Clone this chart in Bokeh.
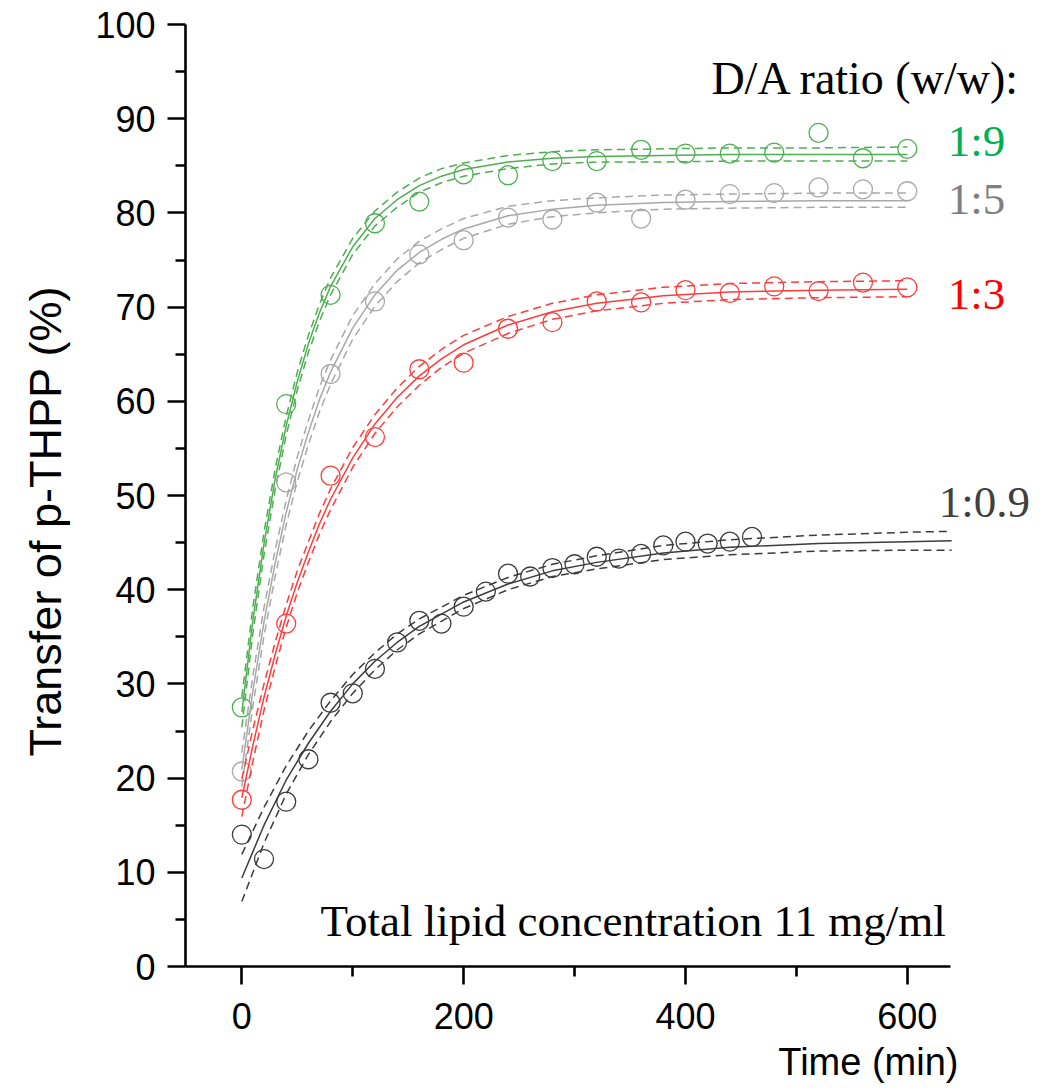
from bokeh.plotting import figure
from bokeh.models import Label, FixedTicker, Range1d, Title
from bokeh.embed import file_html
from bokeh.resources import INLINE

# ---------------- data ----------------
# measured points, every 40 min for 1:9, 1:5 and 1:3
t_points = [0, 40, 80, 120, 160, 200, 240, 280, 320, 360, 400, 440, 480, 520, 560, 600]
y_19 = [27.5, 59.7, 71.3, 78.9, 81.2, 84.1, 84.0, 85.5, 85.5, 86.7, 86.3, 86.3, 86.4, 88.5, 85.8, 86.8]
y_15 = [20.7, 51.4, 62.9, 70.6, 75.6, 77.1, 79.5, 79.3, 81.1, 79.4, 81.4, 82.0, 82.1, 82.7, 82.5, 82.3]
y_13 = [17.7, 36.4, 52.1, 56.2, 63.4, 64.1, 67.7, 68.4, 70.6, 70.5, 71.8, 71.5, 72.2, 71.7, 72.6, 72.1]

# measured points, every 20 min for 1:0.9
t_points_09 = [0, 20, 40, 60, 80, 100, 120, 140, 160, 180, 200, 220,
               240, 260, 280, 300, 320, 340, 360, 380, 400, 420, 440, 460]
y_09 = [14.0, 11.4, 17.5, 22.0, 28.0, 29.0, 31.6, 34.4, 36.7, 36.4, 38.2, 39.8,
        41.7, 41.4, 42.3, 42.7, 43.5, 43.3, 43.8, 44.7, 45.1, 44.9, 45.1, 45.6]

# fitted curves and confidence bands
t_fit = [0, 10, 20, 30, 40, 50, 60, 70, 80, 100, 120, 140, 160, 180, 200, 240, 280, 320, 380, 440, 520, 600]
fit_19 = [27.0, 36.8, 44.9, 51.7, 57.4, 62.1, 66.1, 69.4, 72.2, 76.4, 79.4, 81.4, 82.9, 83.9, 84.6, 85.4, 85.8, 86.0, 86.1, 86.2, 86.2, 86.2]
up_19 = [28.6, 38.2, 46.1, 52.8, 58.4, 63.1, 67.0, 70.3, 73.1, 77.3, 80.2, 82.2, 83.7, 84.7, 85.3, 86.1, 86.5, 86.7, 86.8, 86.9, 86.9, 87.0]
lo_19 = [25.4, 35.4, 43.7, 50.6, 56.4, 61.2, 65.2, 68.5, 71.3, 75.6, 78.6, 80.6, 82.2, 83.2, 83.9, 84.7, 85.2, 85.4, 85.4, 85.5, 85.5, 85.5]

fit_15 = [20.9, 29.3, 36.6, 42.8, 48.2, 52.8, 56.7, 60.2, 63.1, 67.8, 71.3, 73.9, 75.8, 77.2, 78.3, 79.7, 80.4, 80.8, 81.1, 81.2, 81.3, 81.3]
up_15 = [22.7, 30.9, 38.1, 44.2, 49.5, 54.1, 58.0, 61.5, 64.4, 69.1, 72.5, 75.1, 77.0, 78.3, 79.4, 80.7, 81.3, 81.6, 81.9, 82.0, 82.1, 82.1]
lo_15 = [19.1, 27.7, 35.1, 41.4, 46.9, 51.5, 55.4, 58.9, 61.8, 66.6, 70.1, 72.7, 74.7, 76.1, 77.3, 78.8, 79.6, 80.0, 80.4, 80.5, 80.6, 80.6]

fit_13 = [17.9, 23.5, 28.6, 33.1, 37.2, 40.8, 44.0, 47.0, 49.6, 54.0, 57.6, 60.4, 62.7, 64.5, 66.0, 68.1, 69.5, 70.4, 71.2, 71.6, 71.8, 71.9]
up_13 = [19.9, 25.2, 30.0, 34.4, 38.4, 42.0, 45.1, 48.1, 50.7, 55.1, 58.6, 61.4, 63.7, 65.5, 67.0, 69.0, 70.4, 71.3, 72.1, 72.5, 72.7, 72.8]
lo_13 = [15.9, 21.8, 27.2, 31.8, 36.0, 39.7, 42.9, 45.9, 48.5, 53.0, 56.6, 59.4, 61.7, 63.6, 65.1, 67.2, 68.7, 69.6, 70.4, 70.8, 71.0, 71.1]

t_fit_09 = [0, 20, 40, 60, 80, 100, 120, 140, 160, 200, 240, 280, 320, 380, 440, 520, 600, 640]
fit_09 = [9.4, 15.0, 19.8, 23.7, 27.1, 30.0, 32.4, 34.4, 36.1, 38.7, 40.6, 42.0, 42.9, 43.9, 44.5, 44.9, 45.1, 45.2]
up_09 = [11.9, 16.9, 21.3, 25.0, 28.2, 31.0, 33.3, 35.3, 36.9, 39.4, 41.3, 42.7, 43.6, 44.7, 45.3, 45.8, 46.1, 46.2]
lo_09 = [6.9, 13.1, 18.3, 22.5, 26.0, 29.0, 31.5, 33.6, 35.3, 38.0, 40.0, 41.4, 42.2, 43.2, 43.7, 44.1, 44.2, 44.2]

x_ticks = [0, 200, 400, 600]
x_minor = [100, 300, 500]
y_ticks = [0, 10, 20, 30, 40, 50, 60, 70, 80, 90, 100]
y_minor = [5, 15, 25, 35, 45, 55, 65, 75, 85, 95]

ratio_labels = ["1:9", "1:5", "1:3", "1:0.9"]

# ---------------- styling ----------------
C_19, C_15, C_13, C_09 = "#4caf50", "#a8a8a8", "#ff3b3b", "#3c3c3c"
T_19, T_15, T_13, T_09 = "#00b050", "#7f7f7f", "#ff0000", "#404040"
SERIF = "Liberation Serif"
SANS = "Liberation Sans"

W, H = 1039, 1091
X_AXIS_END = 639
p = figure(width=W, height=H, output_backend="svg", toolbar_location=None,
           x_range=Range1d(-50.8, 719.2), y_range=Range1d(0, 100),
           min_border_left=182, min_border_right=0, min_border_top=24, min_border_bottom=125)
p.outline_line_color = None
p.xgrid.visible = False
p.ygrid.visible = False
p.background_fill_color = "white"
p.border_fill_color = "white"

for ax, ticks, minor in ((p.xaxis[0], x_ticks, x_minor), (p.yaxis[0], y_ticks, y_minor)):
    ax.ticker = FixedTicker(ticks=ticks, minor_ticks=minor)
    ax.axis_line_width = 2.6
    ax.major_tick_line_width = 2.6
    ax.minor_tick_line_width = 2.6
    ax.major_tick_out = 18
    ax.major_tick_in = 0
    ax.minor_tick_out = 10
    ax.minor_tick_in = 0
    ax.axis_line_color = "black"
    ax.major_tick_line_color = "black"
    ax.minor_tick_line_color = "black"
    ax.major_label_text_font = SANS
    ax.major_label_text_font_size = "36px"
    ax.major_label_text_color = "black"
p.xaxis.bounds = (-50.8, X_AXIS_END)
p.xaxis.major_label_standoff = 18
p.yaxis.major_label_standoff = 12

series = [
    (t_points, y_19, t_fit, fit_19, up_19, lo_19, C_19),
    (t_points, y_15, t_fit, fit_15, up_15, lo_15, C_15),
    (t_points, y_13, t_fit, fit_13, up_13, lo_13, C_13),
    (t_points_09, y_09, t_fit_09, fit_09, up_09, lo_09, C_09),
]
for tp, yp, tf, yf, yu, yl, col in series:
    p.line(tf, yu, line_color=col, line_width=1.5, line_dash="8 5")
    p.line(tf, yl, line_color=col, line_width=1.5, line_dash="8 5")
    p.line(tf, yf, line_color=col, line_width=1.5)
    p.scatter(tp, yp, marker="circle", size=19, fill_color=None, line_color=col, line_width=1.3)

def lab(x, y, text, color="black", size="45px", font=SERIF, align="left"):
    p.add_layout(Label(x=x, y=y, text=text, text_color=color, text_font=font, text_font_size=size,
                       text_align=align, text_baseline="alphabetic"))

lab(702.1, 94.3, "D/A ratio (w/w):", size="46px", align="right")
lab(636.4, 87.6, ratio_labels[0], color=T_19)
lab(636.4, 81.5, ratio_labels[1], color=T_15)
lab(636.4, 71.4, ratio_labels[2], color=T_13)
lab(628.3, 49.3, ratio_labels[3], color=T_09)
lab(634.6, 4.8, "Total lipid concentration 11 mg/ml", align="right")

# axis titles, placed as titles so they can sit outside the data frame
p.add_layout(Title(text="Transfer of p-THPP (%)", align="left", offset=210, standoff=39,
                   vertical_align="top",
                   text_font=SANS, text_font_size="45px", text_font_style="normal",
                   text_color="black"), "left")
p.add_layout(Title(text="Time (min)", align="right", offset=81, standoff=14,
                   text_font=SANS, text_font_size="38px", text_font_style="normal",
                   text_color="black"), "below")

open("out.html", "w").write(file_html(p, INLINE))
